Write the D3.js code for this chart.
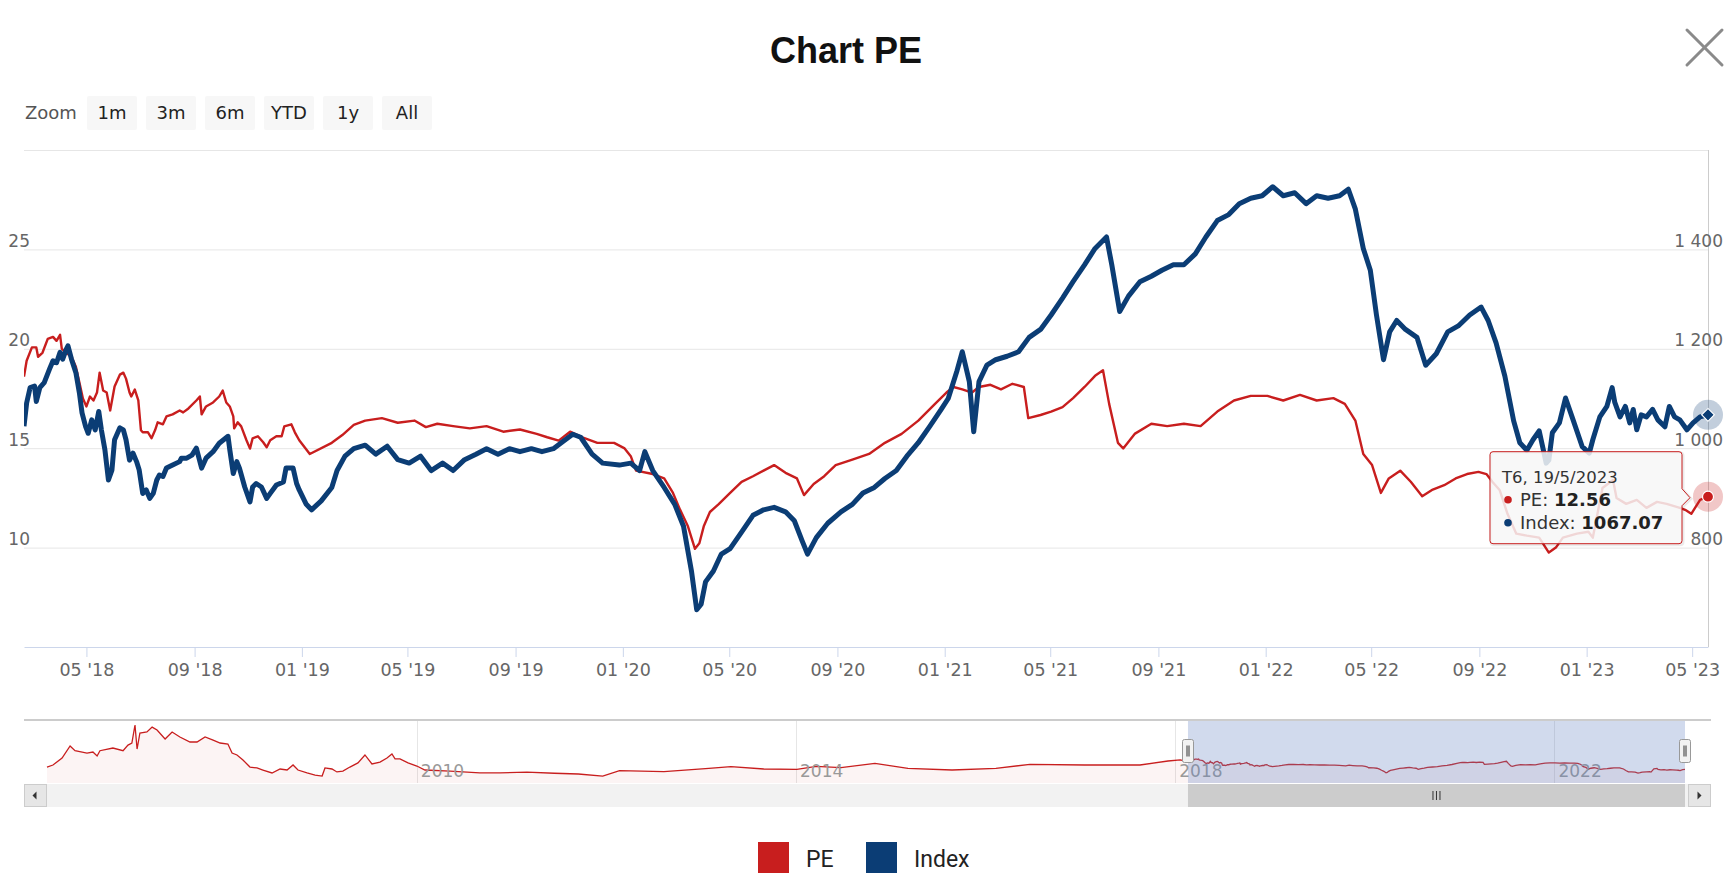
<!DOCTYPE html>
<html><head><meta charset="utf-8">
<script src="https://cdn.jsdelivr.net/npm/d3@7"></script>
<style>body{margin:0;background:#fff;} svg{display:block}</style>
</head><body>
<svg id="chart" width="1736" height="884"></svg>
<script>
// ---------------- DATA ----------------
const peSeries = [["2018-02-19",18.6],["2018-02-22",19.4],["2018-02-28",20.07],["2018-03-05",20.07],["2018-03-07",19.6],["2018-03-12",19.8],["2018-03-18",20.5],["2018-03-24",20.6],["2018-03-28",20.4],["2018-04-01",20.7],["2018-04-03",20.0],["2018-04-08",19.8],["2018-04-14",19.6],["2018-04-19",19.1],["2018-04-24",18.1],["2018-04-27",17.5],["2018-05-01",17.1],["2018-05-05",17.6],["2018-05-09",17.4],["2018-05-13",17.8],["2018-05-16",18.8],["2018-05-20",17.9],["2018-05-24",17.8],["2018-05-28",16.9],["2018-06-02",18.1],["2018-06-08",18.7],["2018-06-12",18.8],["2018-06-15",18.5],["2018-06-19",17.8],["2018-06-21",17.6],["2018-06-25",17.95],["2018-06-29",17.4],["2018-07-02",15.9],["2018-07-04",15.8],["2018-07-10",15.8],["2018-07-14",15.5],["2018-07-18",15.9],["2018-07-21",16.3],["2018-07-27",16.2],["2018-07-31",16.6],["2018-08-07",16.7],["2018-08-15",16.9],["2018-08-19",16.8],["2018-08-25",17.0],["2018-09-03",17.4],["2018-09-07",17.6],["2018-09-09",16.7],["2018-09-14",17.1],["2018-09-22",17.3],["2018-09-29",17.6],["2018-10-03",17.9],["2018-10-07",17.3],["2018-10-11",17.1],["2018-10-15",16.6],["2018-10-16",16.0],["2018-10-20",16.3],["2018-10-24",16.1],["2018-10-30",15.4],["2018-11-03",14.98],["2018-11-06",15.5],["2018-11-12",15.6],["2018-11-18",15.3],["2018-11-22",15.05],["2018-11-26",15.4],["2018-12-03",15.6],["2018-12-09",15.6],["2018-12-12",16.1],["2018-12-20",16.2],["2018-12-24",15.8],["2018-12-29",15.4],["2019-01-10",14.71],["2019-02-04",15.27],["2019-02-16",15.66],["2019-03-01",16.17],["2019-03-14",16.39],["2019-04-02",16.51],["2019-04-20",16.28],["2019-05-09",16.39],["2019-05-22",16.06],["2019-06-04",16.23],["2019-06-22",16.11],["2019-07-11",16.0],["2019-07-30",16.11],["2019-08-18",15.83],["2019-09-06",15.94],["2019-09-25",15.72],["2019-10-07",15.55],["2019-10-20",15.38],["2019-11-02",15.83],["2019-11-16",15.55],["2019-12-03",15.27],["2019-12-22",15.27],["2020-01-03",14.99],["2020-01-10",14.6],["2020-01-16",13.87],["2020-02-04",13.7],["2020-02-17",13.48],["2020-02-27",12.75],["2020-03-06",11.91],["2020-03-15",11.07],["2020-03-23",9.94],["2020-03-28",10.22],["2020-04-02",11.07],["2020-04-09",11.79],["2020-04-19",12.19],["2020-05-02",12.75],["2020-05-15",13.31],["2020-05-28",13.59],["2020-06-09",13.87],["2020-06-21",14.15],["2020-07-04",13.76],["2020-07-17",13.48],["2020-07-25",12.64],["2020-08-05",13.2],["2020-08-17",13.59],["2020-08-30",14.15],["2020-09-18",14.43],["2020-10-07",14.71],["2020-10-25",15.27],["2020-11-13",15.72],["2020-12-02",16.39],["2020-12-21",17.23],["2021-01-03",17.8],["2021-01-11",18.08],["2021-01-21",17.96],["2021-02-01",17.8],["2021-02-09",18.08],["2021-02-22",18.19],["2021-03-06",17.96],["2021-03-19",18.24],["2021-04-01",18.08],["2021-04-06",16.51],["2021-04-20",16.67],["2021-05-02",16.84],["2021-05-15",17.07],["2021-05-27",17.52],["2021-06-09",18.08],["2021-06-21",18.64],["2021-06-30",18.92],["2021-07-07",17.23],["2021-07-17",15.27],["2021-07-23",14.99],["2021-08-05",15.72],["2021-08-24",16.23],["2021-09-11",16.11],["2021-09-30",16.23],["2021-10-19",16.11],["2021-11-07",16.84],["2021-11-26",17.4],["2021-12-15",17.63],["2022-01-03",17.63],["2022-01-21",17.4],["2022-02-09",17.68],["2022-02-28",17.4],["2022-03-19",17.52],["2022-04-01",17.23],["2022-04-13",16.39],["2022-04-22",14.71],["2022-05-02",14.15],["2022-05-12",12.75],["2022-05-21",13.48],["2022-06-03",13.87],["2022-06-15",13.31],["2022-06-28",12.58],["2022-07-10",12.92],["2022-07-23",13.14],["2022-08-05",13.48],["2022-08-18",13.7],["2022-08-31",13.81],["2022-09-09",13.7],["2022-09-16",13.3],["2022-09-24",12.9],["2022-10-03",11.7],["2022-10-13",10.7],["2022-10-25",10.6],["2022-11-08",10.5],["2022-11-19",9.75],["2022-11-27",10.0],["2022-12-05",10.5],["2022-12-21",10.7],["2023-01-03",10.8],["2023-01-08",10.5],["2023-01-19",13.0],["2023-01-31",13.4],["2023-02-04",12.5],["2023-02-15",12.2],["2023-02-27",12.4],["2023-03-10",12.0],["2023-03-22",12.3],["2023-04-02",12.2],["2023-04-17",12.0],["2023-04-23",11.9],["2023-04-30",11.7],["2023-05-10",12.4],["2023-05-19",12.56]];

const indexSeries = [["2018-02-19",1044],["2018-02-22",1091],["2018-02-26",1122],["2018-03-03",1125],["2018-03-05",1094],["2018-03-09",1122],["2018-03-14",1132],["2018-03-20",1159],["2018-03-24",1176],["2018-03-28",1172],["2018-04-01",1193],["2018-04-04",1179],["2018-04-08",1199],["2018-04-10",1206],["2018-04-14",1179],["2018-04-19",1152],["2018-04-23",1111],["2018-04-26",1071],["2018-04-30",1044],["2018-05-03",1030],["2018-05-07",1057],["2018-05-11",1037],["2018-05-15",1074],["2018-05-18",1037],["2018-05-22",997],["2018-05-26",936],["2018-05-30",956],["2018-06-02",1017],["2018-06-08",1041],["2018-06-12",1037],["2018-06-15",1017],["2018-06-19",976],["2018-06-23",990],["2018-06-27",973],["2018-06-30",956],["2018-07-04",909],["2018-07-08",916],["2018-07-12",899],["2018-07-16",909],["2018-07-20",936],["2018-07-23",946],["2018-07-27",943],["2018-07-31",960],["2018-08-07",966],["2018-08-15",973],["2018-08-17",980],["2018-08-23",980],["2018-08-29",986],["2018-09-03",1000],["2018-09-09",960],["2018-09-14",980],["2018-09-22",993],["2018-09-29",1010],["2018-10-09",1024],["2018-10-11",997],["2018-10-15",949],["2018-10-19",973],["2018-10-22",960],["2018-10-28",922],["2018-11-03",892],["2018-11-06",922],["2018-11-10",929],["2018-11-16",922],["2018-11-22",899],["2018-11-26",909],["2018-12-03",926],["2018-12-11",932],["2018-12-14",960],["2018-12-22",960],["2018-12-26",929],["2018-12-29",916],["2019-01-06",887],["2019-01-12",876],["2019-01-23",894],["2019-02-04",921],["2019-02-10",955],["2019-02-19",984],["2019-03-01",999],["2019-03-14",1006],["2019-03-26",988],["2019-04-08",1004],["2019-04-20",977],["2019-05-03",970],["2019-05-16",984],["2019-05-28",955],["2019-06-10",970],["2019-06-22",955],["2019-07-05",977],["2019-07-18",988],["2019-07-30",999],["2019-08-12",988],["2019-08-25",999],["2019-09-06",993],["2019-09-19",999],["2019-10-01",993],["2019-10-14",999],["2019-10-26",1015],["2019-11-05",1028],["2019-11-14",1022],["2019-11-27",988],["2019-12-09",970],["2019-12-28",966],["2020-01-10",970],["2020-01-20",955],["2020-01-26",993],["2020-02-04",955],["2020-02-17",921],["2020-02-29",887],["2020-03-10",843],["2020-03-19",753],["2020-03-25",675],["2020-03-30",686],["2020-04-04",731],["2020-04-13",753],["2020-04-22",787],["2020-05-02",798],["2020-05-15",831],["2020-05-28",865],["2020-06-09",876],["2020-06-21",881],["2020-07-04",872],["2020-07-14",854],["2020-07-23",813],["2020-07-29",787],["2020-08-08",820],["2020-08-21",849],["2020-09-05",872],["2020-09-18",887],["2020-09-30",910],["2020-10-13",921],["2020-10-25",939],["2020-11-07",955],["2020-11-19",984],["2020-12-02",1011],["2020-12-15",1044],["2020-12-28",1078],["2021-01-05",1100],["2021-01-15",1156],["2021-01-21",1194],["2021-01-29",1134],["2021-02-03",1033],["2021-02-09",1134],["2021-02-18",1167],["2021-02-28",1178],["2021-03-13",1185],["2021-03-26",1194],["2021-04-07",1223],["2021-04-20",1239],["2021-05-02",1268],["2021-05-15",1302],["2021-05-27",1335],["2021-06-09",1369],["2021-06-21",1402],["2021-07-04",1425],["2021-07-10",1369],["2021-07-19",1275],["2021-07-29",1306],["2021-08-11",1335],["2021-08-24",1346],["2021-09-05",1358],["2021-09-18",1369],["2021-09-30",1369],["2021-10-13",1391],["2021-10-25",1425],["2021-11-07",1458],["2021-11-20",1470],["2021-12-02",1492],["2021-12-15",1503],["2021-12-28",1508],["2022-01-09",1526],["2022-01-21",1508],["2022-02-03",1514],["2022-02-16",1492],["2022-02-28",1508],["2022-03-13",1503],["2022-03-26",1508],["2022-04-05",1521],["2022-04-13",1481],["2022-04-22",1402],["2022-04-30",1358],["2022-05-07",1268],["2022-05-15",1178],["2022-05-22",1234],["2022-05-30",1257],["2022-06-09",1239],["2022-06-22",1223],["2022-07-02",1167],["2022-07-14",1190],["2022-07-27",1234],["2022-08-08",1246],["2022-08-21",1268],["2022-09-03",1284],["2022-09-11",1257],["2022-09-20",1212],["2022-09-30",1145],["2022-10-10",1055],["2022-10-17",1011],["2022-10-25",996],["2022-11-01",1017],["2022-11-08",1035],["2022-11-16",970],["2022-11-19",976],["2022-11-23",1031],["2022-12-01",1051],["2022-12-08",1101],["2022-12-16",1060],["2022-12-27",1003],["2023-01-04",990],["2023-01-08",1017],["2023-01-16",1063],["2023-01-24",1084],["2023-01-30",1122],["2023-02-02",1092],["2023-02-08",1063],["2023-02-14",1084],["2023-02-19",1051],["2023-02-23",1078],["2023-02-27",1037],["2023-03-04",1067],["2023-03-10",1063],["2023-03-17",1078],["2023-03-23",1057],["2023-03-31",1043],["2023-04-05",1084],["2023-04-11",1063],["2023-04-17",1057],["2023-04-25",1037],["2023-05-02",1051],["2023-05-10",1063],["2023-05-19",1067.07]];

// PE history shown only in the navigator (before the main chart range)
const navHistory = [["2006-02-06",14.4],["2006-03-01",16.0],["2006-04-05",21.4],["2006-05-06",30.8],["2006-05-25",27.1],["2006-07-10",25.3],["2006-08-02",26.1],["2006-08-18",23.0],["2006-08-29",27.1],["2006-10-18",29.2],["2006-11-26",27.1],["2006-12-15",31.5],["2006-12-30",33.1],["2007-01-11",47.1],["2007-01-19",28.4],["2007-01-30",40.9],["2007-02-26",41.7],["2007-03-18",45.5],["2007-04-06",43.2],["2007-05-07",36.2],["2007-06-03",41.7],["2007-07-03",37.8],["2007-08-11",33.9],["2007-09-07",33.9],["2007-10-08",37.8],["2007-11-08",35.4],["2007-12-05",33.1],["2008-01-04",32.3],["2008-01-20",25.3],["2008-02-08",23.8],["2008-03-02",19.9],["2008-03-29",14.4],["2008-04-25",13.7],["2008-05-18",12.1],["2008-06-22",9.8],["2008-07-23",12.9],["2008-08-19",12.1],["2008-09-11",16.0],["2008-09-30",12.1],["2008-11-04",9.8],["2008-12-05",8.2],["2009-01-01",7.4],["2009-01-12",13.7],["2009-02-08",12.9],["2009-02-27",10.6],["2009-03-22",11.3],["2009-04-18",14.4],["2009-05-19",17.6],["2009-06-15",23.8],["2009-07-12",16.8],["2009-08-12",18.3],["2009-09-08",21.4],["2009-09-27",24.6],["2009-10-09",20.7],["2009-10-28",20.7],["2009-11-28",17.6],["2010-01-01",15.2],["2010-02-01",12.1],["2010-05-09",11.3],["2010-09-01",9.8],["2010-11-17",9.8],["2011-03-01",10.5],["2011-06-15",9.6],["2011-09-15",9.0],["2011-12-18",7.3],["2012-02-21",11.6],["2012-08-10",10.8],["2013-01-30",13.4],["2013-04-25",14.7],["2013-08-30",12.9],["2014-01-04",12.6],["2014-03-20",15.0],["2014-06-23",14.0],["2014-11-01",17.3],["2015-03-08",13.4],["2015-08-25",12.1],["2016-02-10",13.4],["2016-06-20",16.5],["2017-01-18",16.0],["2017-08-18",16.0],["2017-12-04",19.1],["2018-01-20",20.0]];

const peTicks = [10, 15, 20, 25];
const peGridValues = [10, 15, 20, 25, 30];
const peAxisRange = [5, 30];
const indexTicks = [800, 1000, 1200, 1400];
const indexAxisRange = [600, 1600];
const navYears = [2010, 2014, 2018, 2022];
const navPERange = [2, 51];
const zoomButtons = ["1m", "3m", "6m", "YTD", "1y", "All"];
const seriesNames = ["PE", "Index"];
const seriesColors = ["#c81e1e", "#0b3d75"];
const chartTitle = "Chart PE";

// ---------------- SETUP ----------------
const parse = d3.timeParse("%Y-%m-%d");
const pe = peSeries.map(([d, v]) => ({date: parse(d), value: v}));
const idx = indexSeries.map(([d, v]) => ({date: parse(d), value: v}));
const nav = navHistory.map(([d, v]) => ({date: parse(d), value: v})).concat(pe);

const svg = d3.select("#chart");
const plot = {left: 24, right: 1708, top: 150, bottom: 647};
const navBox = {top: 720, bottom: 783, left: 47, right: 1685};
const AXIS_FONT = "'DejaVu Sans', Verdana, sans-serif";

const x = d3.scaleTime().domain([pe[0].date, pe[pe.length - 1].date]).range([plot.left, plot.right]);
const yPE = d3.scaleLinear().domain(peAxisRange).range([plot.bottom, plot.top]);
const yIdx = d3.scaleLinear().domain(indexAxisRange).range([plot.bottom, plot.top]);

// Title
svg.append("text").attr("x", 846).attr("y", 63).attr("text-anchor", "middle")
  .style("font-family", "'Liberation Sans', Arial, sans-serif").style("font-weight", "bold")
  .style("font-size", "36px").style("fill", "#111").text(chartTitle);

// Close button
const close = svg.append("g").attr("stroke", "#8a8a8a").attr("stroke-width", 3).attr("stroke-linecap", "round");
close.append("line").attr("x1", 1687).attr("y1", 30).attr("x2", 1722).attr("y2", 65);
close.append("line").attr("x1", 1722).attr("y1", 30).attr("x2", 1687).attr("y2", 65);

// Range selector
svg.append("text").attr("x", 25).attr("y", 119).style("font-family", AXIS_FONT)
  .style("font-size", "18px").style("fill", "#555").text("Zoom");
const btn = svg.selectAll("g.btn").data(zoomButtons).enter().append("g").attr("class", "btn")
  .attr("transform", (d, i) => `translate(${87 + i * 59},96)`);
btn.append("rect").attr("width", 50).attr("height", 34).attr("rx", 2).attr("fill", "#f7f7f7");
btn.append("text").attr("x", 25).attr("y", 23).attr("text-anchor", "middle")
  .style("font-family", AXIS_FONT).style("font-size", "18px").style("fill", "#222").text(d => d);

// Gridlines
const grid = svg.append("g").attr("transform", `translate(${plot.left},0)`)
  .call(d3.axisLeft(yPE).tickValues(peGridValues).tickSize(-(plot.right - plot.left)).tickFormat(""));
grid.select(".domain").remove();
grid.selectAll("line").attr("stroke", "#e6e6e6");

// Right border / right axis line
svg.append("line").attr("x1", plot.right + 0.5).attr("x2", plot.right + 0.5)
  .attr("y1", plot.top).attr("y2", plot.bottom).attr("stroke", "#cccccc");

// X axis
const xAxis = svg.append("g").attr("transform", `translate(0,${plot.bottom})`)
  .call(d3.axisBottom(x).ticks(d3.timeMonth.every(4)).tickFormat(d3.timeFormat("%m '%y"))
    .tickSize(10).tickSizeOuter(0).tickPadding(7));
xAxis.select(".domain").attr("stroke", "#ccd6eb");
xAxis.selectAll(".tick line").attr("stroke", "#ccd6eb");
xAxis.selectAll(".tick text").style("font-family", AXIS_FONT).style("font-size", "17.5px").attr("fill", "#666");

// Left axis labels
const yl = svg.append("g").attr("transform", `translate(${plot.left},0)`)
  .call(d3.axisLeft(yPE).tickValues(peTicks).tickSize(0).tickPadding(-6));
yl.select(".domain").remove();
yl.selectAll("text").attr("dy", "-3px").style("font-family", AXIS_FONT).style("font-size", "17px").attr("fill", "#666");

// Right axis labels
const fmtIdx = d3.formatLocale({decimal: ".", thousands: " ", grouping: [3], currency: ["", ""]}).format(",d");
const yr = svg.append("g").attr("transform", `translate(1723,0)`)
  .call(d3.axisRight(yIdx).tickValues(indexTicks).tickSize(0).tickPadding(0).tickFormat(fmtIdx));
yr.select(".domain").remove();
yr.selectAll("text").attr("dy", "-3px").attr("text-anchor", "end").attr("x", 0)
  .style("font-family", AXIS_FONT).style("font-size", "17px").attr("fill", "#666");

// Lines
svg.append("clipPath").attr("id", "plotclip").append("rect")
  .attr("x", plot.left).attr("y", plot.top).attr("width", plot.right - plot.left + 1).attr("height", plot.bottom - plot.top);
const lines = svg.append("g").attr("clip-path", "url(#plotclip)");
lines.append("path").datum(pe).attr("fill", "none").attr("stroke", seriesColors[0]).attr("stroke-width", 2.4)
  .attr("stroke-linejoin", "round").attr("d", d3.line().x(d => x(d.date)).y(d => yPE(d.value)));
lines.append("path").datum(idx).attr("fill", "none").attr("stroke", seriesColors[1]).attr("stroke-width", 5)
  .attr("stroke-linejoin", "round").attr("d", d3.line().x(d => x(d.date)).y(d => yIdx(d.value)));

// Hover markers on last points
const lastPE = pe[pe.length - 1], lastIdx = idx[idx.length - 1];
const pX = x(lastPE.date), pY = yPE(lastPE.value);
const iX = x(lastIdx.date), iY = yIdx(lastIdx.value);
svg.append("circle").attr("cx", iX).attr("cy", iY).attr("r", 15).attr("fill", seriesColors[1]).attr("opacity", 0.25);
svg.append("path").attr("transform", `translate(${iX},${iY}) rotate(45)`)
  .attr("d", "M-4.5,-4.5H4.5V4.5H-4.5Z").attr("fill", seriesColors[1]).attr("stroke", "#fff").attr("stroke-width", 1.2);
svg.append("circle").attr("cx", pX).attr("cy", pY).attr("r", 15).attr("fill", seriesColors[0]).attr("opacity", 0.25);
svg.append("circle").attr("cx", pX).attr("cy", pY).attr("r", 5.5).attr("fill", seriesColors[0]).attr("stroke", "#fff").attr("stroke-width", 1.2);

// Tooltip
const tipX = pX - 18, tipY = pY + 1;
const bx1 = tipX - 8, bx0 = bx1 - 192, by0 = tipY - 46, by1 = tipY + 46, r = 3;
const tipPath = `M${bx0 + r},${by0}H${bx1 - r}Q${bx1},${by0} ${bx1},${by0 + r}V${tipY - 9}L${tipX},${tipY}L${bx1},${tipY + 8}V${by1 - r}Q${bx1},${by1} ${bx1 - r},${by1}H${bx0 + r}Q${bx0},${by1} ${bx0},${by1 - r}V${by0 + r}Q${bx0},${by0} ${bx0 + r},${by0}Z`;
svg.append("path").attr("d", tipPath).attr("transform", "translate(1,1)").attr("fill", "none")
  .attr("stroke", "#000").attr("stroke-opacity", 0.08).attr("stroke-width", 3);
svg.append("path").attr("d", tipPath).attr("fill", "rgba(247,247,247,0.85)").attr("stroke", seriesColors[0]).attr("stroke-width", 1);
const d0 = lastPE.date;
const tipTitle = `T${d0.getDay() + 1}, ${d0.getDate()}/${d0.getMonth() + 1}/${d0.getFullYear()}`;
svg.append("text").attr("x", bx0 + 12).attr("y", by0 + 31).style("font-family", AXIS_FONT)
  .style("font-size", "16.5px").style("fill", "#333").text(tipTitle);
const tipRows = [{name: seriesNames[0], color: seriesColors[0], v: lastPE.value}, {name: seriesNames[1], color: seriesColors[1], v: lastIdx.value}];
tipRows.forEach((row, i) => {
  const yy = by0 + 54 + i * 23;
  svg.append("circle").attr("cx", bx0 + 18).attr("cy", yy - 6).attr("r", 3.8).attr("fill", row.color);
  const t = svg.append("text").attr("x", bx0 + 30).attr("y", yy).style("font-family", AXIS_FONT)
    .style("font-size", "18px").style("fill", "#333");
  t.append("tspan").text(row.name + ": ");
  t.append("tspan").style("font-weight", "bold").style("fill", "#222").text(d3.format(".2f")(row.v));
});

// ---------------- NAVIGATOR ----------------
const xNav = d3.scaleTime().domain([nav[0].date, nav[nav.length - 1].date]).range([navBox.left, navBox.right]);
const yNav = d3.scaleLinear().domain(navPERange).range([navBox.bottom, navBox.top]);

navYears.forEach(yv => {
  const gx = Math.round(xNav(new Date(yv, 0, 1))) + 0.5;
  svg.append("line").attr("x1", gx).attr("x2", gx).attr("y1", navBox.top).attr("y2", navBox.bottom).attr("stroke", "#e6e6e6");
});
svg.append("path").datum(nav).attr("fill", "rgba(200,30,30,0.05)")
  .attr("d", d3.area().x(d => xNav(d.date)).y0(navBox.bottom).y1(d => yNav(d.value)));
svg.append("path").datum(nav).attr("fill", "none").attr("stroke", seriesColors[0]).attr("stroke-width", 1.3)
  .attr("d", d3.line().x(d => xNav(d.date)).y(d => yNav(d.value)));
navYears.forEach(yv => {
  const gx = xNav(new Date(yv, 0, 1));
  svg.append("text").attr("x", gx + 4).attr("y", 777).style("font-family", AXIS_FONT)
    .style("font-size", "17px").style("fill", "#999").text(yv);
});
const selX0 = xNav(x.domain()[0]), selX1 = xNav(x.domain()[1]);
svg.append("rect").attr("x", selX0).attr("y", navBox.top).attr("width", selX1 - selX0)
  .attr("height", navBox.bottom - navBox.top).attr("fill", "rgba(102,133,194,0.3)");
svg.append("line").attr("x1", 24).attr("x2", 1711).attr("y1", navBox.top).attr("y2", navBox.top)
  .attr("stroke", "#cccccc").attr("stroke-width", 2);

// Scrollbar
const sb = {y: 784, h: 23};
svg.append("rect").attr("x", 24).attr("y", sb.y).attr("width", 1687).attr("height", sb.h).attr("fill", "#f2f2f2");
svg.append("rect").attr("x", selX0).attr("y", sb.y).attr("width", selX1 - selX0).attr("height", sb.h).attr("fill", "#cccccc");
[0, -3.5, 3.5].forEach(o => {
  const cx = (selX0 + selX1) / 2 + o;
  svg.append("line").attr("x1", cx).attr("x2", cx).attr("y1", sb.y + 7).attr("y2", sb.y + 16).attr("stroke", "#333").attr("stroke-width", 1);
});
[[24, -1], [1688, 1]].forEach(([bx, dir]) => {
  svg.append("rect").attr("x", bx + 0.5).attr("y", sb.y + 0.5).attr("width", 22).attr("height", sb.h - 1)
    .attr("fill", "#e6e6e6").attr("stroke", "#cccccc");
  const cx = bx + 11, cy = sb.y + sb.h / 2;
  svg.append("path").attr("d", `M${cx + dir * 2.5},${cy}L${cx - dir * 1.5},${cy - 4}L${cx - dir * 1.5},${cy + 4}Z`).attr("fill", "#333");
});

// Handles
[selX0, selX1].forEach(hx => {
  const g = svg.append("g").attr("transform", `translate(${Math.round(hx) - 5.5},739.5)`);
  g.append("rect").attr("width", 11).attr("height", 23).attr("rx", 2).attr("fill", "#f2f2f2").attr("stroke", "#999");
  g.append("line").attr("x1", 4.5).attr("x2", 4.5).attr("y1", 6).attr("y2", 17).attr("stroke", "#333");
  g.append("line").attr("x1", 6.5).attr("x2", 6.5).attr("y1", 6).attr("y2", 17).attr("stroke", "#333");
});

// ---------------- LEGEND ----------------
const legendX = [758, 866];
seriesNames.forEach((n, i) => {
  svg.append("rect").attr("x", legendX[i]).attr("y", 842).attr("width", 31).attr("height", 31)
    .attr("fill", seriesColors[i]);
  svg.append("text").attr("x", legendX[i] + 48).attr("y", 867)
    .style("font-family", "Roboto, 'Liberation Sans', sans-serif").style("font-size", "23px").style("fill", "#222").text(n);
});
</script>
</body></html>
